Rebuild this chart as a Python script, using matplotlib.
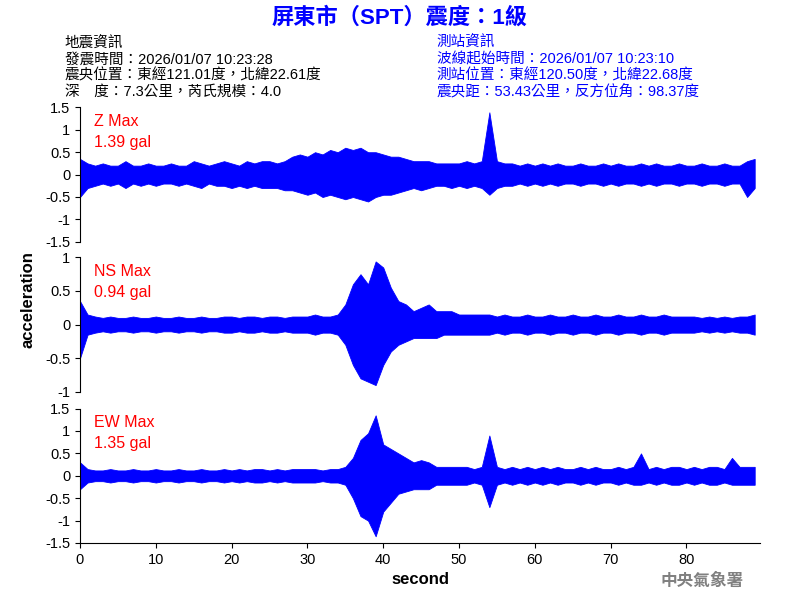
import numpy as np
import matplotlib.pyplot as plt

plt.rcParams['font.family'] = ['Liberation Sans', 'Noto Sans CJK TC', 'DejaVu Sans']

# envelope of each trace, one value per second (0..89 s)
seconds = list(range(90))

z_upper = [0.35, 0.25, 0.2, 0.25, 0.2, 0.2, 0.3, 0.2, 0.2, 0.25,
           0.2, 0.2, 0.25, 0.2, 0.2, 0.3, 0.25, 0.2, 0.25, 0.3,
           0.25, 0.2, 0.3, 0.25, 0.3, 0.3, 0.25, 0.3, 0.4, 0.45,
           0.4, 0.5, 0.45, 0.55, 0.5, 0.6, 0.55, 0.6, 0.5, 0.5,
           0.45, 0.4, 0.4, 0.35, 0.3, 0.3, 0.3, 0.25, 0.25, 0.25,
           0.25, 0.3, 0.25, 0.3, 1.39, 0.3, 0.25, 0.25, 0.2, 0.25,
           0.2, 0.25, 0.2, 0.25, 0.2, 0.2, 0.25, 0.2, 0.2, 0.25,
           0.2, 0.25, 0.2, 0.2, 0.25, 0.2, 0.25, 0.2, 0.2, 0.25,
           0.2, 0.2, 0.25, 0.2, 0.2, 0.25, 0.2, 0.2, 0.3, 0.35]
z_lower = [-0.5, -0.3, -0.25, -0.2, -0.25, -0.2, -0.3, -0.2, -0.25, -0.2,
           -0.25, -0.2, -0.2, -0.25, -0.2, -0.25, -0.3, -0.2, -0.25, -0.25,
           -0.3, -0.25, -0.3, -0.25, -0.3, -0.3, -0.3, -0.35, -0.35, -0.4,
           -0.45, -0.4, -0.5, -0.45, -0.5, -0.55, -0.5, -0.55, -0.6, -0.5,
           -0.45, -0.45, -0.4, -0.35, -0.3, -0.35, -0.3, -0.25, -0.25, -0.3,
           -0.25, -0.3, -0.25, -0.3, -0.45, -0.3, -0.25, -0.25, -0.2, -0.25,
           -0.2, -0.25, -0.2, -0.25, -0.2, -0.2, -0.25, -0.2, -0.2, -0.25,
           -0.2, -0.25, -0.2, -0.2, -0.25, -0.2, -0.25, -0.2, -0.2, -0.25,
           -0.2, -0.2, -0.25, -0.2, -0.2, -0.25, -0.2, -0.2, -0.5, -0.3]

ns_upper = [0.35, 0.15, 0.12, 0.1, 0.12, 0.1, 0.1, 0.12, 0.1, 0.1,
            0.12, 0.1, 0.1, 0.12, 0.1, 0.1, 0.12, 0.1, 0.1, 0.12,
            0.12, 0.1, 0.12, 0.12, 0.1, 0.12, 0.12, 0.1, 0.12, 0.12,
            0.12, 0.15, 0.12, 0.12, 0.15, 0.3, 0.6, 0.75, 0.6, 0.94,
            0.85, 0.55, 0.35, 0.3, 0.2, 0.25, 0.3, 0.2, 0.2, 0.2,
            0.15, 0.15, 0.15, 0.15, 0.15, 0.12, 0.15, 0.12, 0.12, 0.15,
            0.12, 0.12, 0.15, 0.12, 0.12, 0.15, 0.12, 0.12, 0.15, 0.12,
            0.12, 0.15, 0.12, 0.12, 0.15, 0.12, 0.12, 0.15, 0.12, 0.12,
            0.12, 0.12, 0.1, 0.12, 0.1, 0.12, 0.1, 0.12, 0.12, 0.15]
ns_lower = [-0.5, -0.15, -0.12, -0.1, -0.12, -0.1, -0.1, -0.12, -0.1, -0.1,
            -0.12, -0.1, -0.1, -0.12, -0.1, -0.1, -0.12, -0.1, -0.1, -0.12,
            -0.12, -0.1, -0.12, -0.12, -0.1, -0.12, -0.12, -0.1, -0.12, -0.12,
            -0.12, -0.15, -0.12, -0.12, -0.15, -0.3, -0.6, -0.8, -0.85, -0.9,
            -0.6, -0.4, -0.3, -0.25, -0.2, -0.2, -0.2, -0.2, -0.15, -0.15,
            -0.15, -0.15, -0.15, -0.15, -0.15, -0.12, -0.15, -0.12, -0.12, -0.15,
            -0.12, -0.12, -0.15, -0.12, -0.12, -0.15, -0.12, -0.12, -0.15, -0.12,
            -0.12, -0.15, -0.12, -0.12, -0.15, -0.12, -0.12, -0.15, -0.12, -0.12,
            -0.12, -0.12, -0.1, -0.12, -0.1, -0.12, -0.1, -0.12, -0.12, -0.15]

ew_upper = [0.3, 0.15, 0.12, 0.12, 0.15, 0.12, 0.12, 0.15, 0.12, 0.12,
            0.15, 0.12, 0.12, 0.15, 0.12, 0.12, 0.15, 0.12, 0.12, 0.15,
            0.12, 0.15, 0.12, 0.15, 0.15, 0.12, 0.15, 0.12, 0.15, 0.15,
            0.15, 0.15, 0.12, 0.15, 0.15, 0.2, 0.4, 0.8, 0.95, 1.35,
            0.7, 0.6, 0.5, 0.4, 0.3, 0.35, 0.3, 0.2, 0.2, 0.2,
            0.2, 0.2, 0.15, 0.2, 0.9, 0.2, 0.15, 0.2, 0.15, 0.2,
            0.15, 0.2, 0.15, 0.2, 0.15, 0.15, 0.2, 0.15, 0.2, 0.15,
            0.15, 0.2, 0.15, 0.2, 0.5, 0.15, 0.2, 0.15, 0.2, 0.2,
            0.15, 0.2, 0.15, 0.2, 0.2, 0.15, 0.4, 0.2, 0.2, 0.2]
ew_lower = [-0.3, -0.15, -0.12, -0.12, -0.15, -0.12, -0.12, -0.15, -0.12, -0.12,
            -0.15, -0.12, -0.12, -0.15, -0.12, -0.12, -0.15, -0.12, -0.12, -0.15,
            -0.12, -0.15, -0.12, -0.15, -0.15, -0.12, -0.15, -0.12, -0.15, -0.15,
            -0.15, -0.15, -0.12, -0.15, -0.15, -0.2, -0.5, -0.9, -1.0, -1.35,
            -0.8, -0.6, -0.4, -0.35, -0.3, -0.3, -0.3, -0.2, -0.2, -0.2,
            -0.2, -0.2, -0.15, -0.2, -0.7, -0.2, -0.15, -0.2, -0.15, -0.2,
            -0.15, -0.2, -0.15, -0.2, -0.15, -0.15, -0.2, -0.15, -0.2, -0.15,
            -0.15, -0.2, -0.15, -0.2, -0.2, -0.15, -0.2, -0.15, -0.2, -0.2,
            -0.15, -0.2, -0.15, -0.2, -0.2, -0.15, -0.2, -0.2, -0.2, -0.2]

panels = [
    ("Z Max\n1.39 gal", z_upper, z_lower, 1.5, [1.5, 1, 0.5, 0, -0.5, -1, -1.5]),
    ("NS Max\n0.94 gal", ns_upper, ns_lower, 1.0, [1, 0.5, 0, -0.5, -1]),
    ("EW Max\n1.35 gal", ew_upper, ew_lower, 1.5, [1.5, 1, 0.5, 0, -0.5, -1, -1.5]),
]

title = "屏東市（SPT）震度：1級"
left_info = ["地震資訊", "發震時間：2026/01/07 10:23:28",
             "震央位置：東經121.01度，北緯22.61度", "深　度：7.3公里，芮氏規模：4.0"]
right_info = ["測站資訊", "波線起始時間：2026/01/07 10:23:10",
              "測站位置：東經120.50度，北緯22.68度", "震央距：53.43公里，反方位角：98.37度"]

fig = plt.figure(figsize=(8, 6), dpi=100)
bottoms = [0.597, 0.347, 0.095]
for i, (label, up, low, lim, ticks) in enumerate(panels):
    ax = fig.add_axes([0.1, bottoms[i], 0.85, 0.224])
    ax.fill_between(seconds, low, up, color="blue", linewidth=0.6, edgecolor="blue")
    ax.set_xlim(0, 89.7)
    ax.set_ylim(-lim, lim)
    ax.set_yticks(ticks)
    ax.set_yticklabels([f"{t:g}" for t in ticks], fontsize=10.5)
    for s in ["top", "right"]:
        ax.spines[s].set_visible(False)
    if i < 2:
        ax.spines["bottom"].set_visible(False)
        ax.set_xticks([])
    else:
        ax.set_xticks(range(0, 90, 10))
        ax.tick_params(axis="x", labelsize=10.5)
        ax.set_xlabel("second", fontsize=12, fontweight="bold")
    ax.text(0.02, 0.95, label, transform=ax.transAxes, color="red",
            fontsize=11.5, va="top", linespacing=1.5)

fig.text(0.035, 0.5, "acceleration", rotation=90, fontsize=12, fontweight="bold",
         va="center", ha="center")
fig.text(0.5, 0.97, title, color="blue", fontsize=16, fontweight="bold", ha="center", va="center")
for j, line in enumerate(left_info):
    fig.text(0.081, 0.928 - j * 0.027, line, fontsize=10.5, va="center")
for j, line in enumerate(right_info):
    fig.text(0.546, 0.928 - j * 0.027, line, fontsize=10.5, va="center", color="blue")
fig.text(0.93, 0.032, "中央氣象署", color="gray", fontsize=12, fontweight="bold", ha="right", va="center")

fig.savefig("out.png", dpi=100)
